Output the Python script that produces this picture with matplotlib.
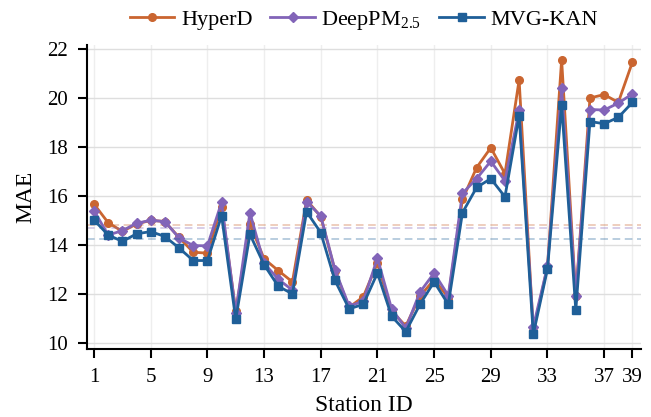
import numpy as np
import matplotlib
matplotlib.use("Agg")
import matplotlib.pyplot as plt

stations = np.arange(1, 40)

hyperd = [15.66, 14.90, 14.55, 14.85, 15.00, 14.95, 14.30, 13.70, 13.66, 15.55,
          11.30, 14.85, 13.43, 12.95, 12.49, 15.83, 15.15, 12.95, 11.45, 11.88,
          13.26, 11.30, 10.69, 11.90, 12.58, 11.85, 15.85, 17.15, 17.96, 16.90,
          20.73, 10.50, 13.10, 21.55, 11.90, 19.99, 20.13, 19.81, 21.46]
deeppm = [15.39, 14.40, 14.58, 14.88, 15.00, 14.95, 14.28, 13.97, 13.96, 15.73,
          11.23, 15.31, 13.25, 12.60, 12.15, 15.76, 15.18, 12.99, 11.50, 11.70,
          13.46, 11.39, 10.60, 12.07, 12.85, 11.93, 16.10, 16.70, 17.41, 16.61,
          19.48, 10.66, 13.12, 20.38, 11.90, 19.52, 19.50, 19.78, 20.16]
mvgkan = [15.01, 14.40, 14.14, 14.45, 14.54, 14.34, 13.87, 13.36, 13.36, 15.19,
          10.96, 14.43, 13.19, 12.31, 12.00, 15.35, 14.50, 12.55, 11.39, 11.57,
          12.85, 11.09, 10.46, 11.57, 12.49, 11.57, 15.31, 16.34, 16.70, 15.96,
          19.27, 10.35, 13.01, 19.72, 11.33, 19.03, 18.94, 19.20, 19.81]

names = ["HyperD", "DeepPM$_{2.5}$", "MVG-KAN"]
colors = ["#CA6530", "#8264B8", "#1F5F98"]
markers = ["o", "D", "s"]

plt.rcParams["font.family"] = ["Liberation Serif", "DejaVu Serif"]
plt.rcParams["mathtext.fontset"] = "custom"
plt.rcParams["mathtext.rm"] = "Liberation Serif"

fig = plt.figure(figsize=(6.51, 4.17), dpi=100)
ax = fig.add_axes([0.1336, 0.1630, 0.851, 0.7290])

for vals, name, c, m in zip([hyperd, deeppm, mvgkan], names, colors, markers):
    ms = 5 if m == "D" else 5.5
    ax.plot(stations, vals, color=c, marker=m, markersize=ms, linewidth=2,
            label=name)
    # mean reference line
    ax.axhline(np.mean(vals), color=c, linestyle="--", linewidth=1.1,
               alpha=0.4, dashes=(5, 3))

ax.set_xlim(0.5, 39.6)
ax.set_ylim(9.75, 22.15)
ax.set_xticks([1, 5, 9, 13, 17, 21, 25, 29, 33, 37, 39])
ax.set_yticks(np.arange(10, 23, 2))
ax.grid(True, axis="y", color="#dedede", linewidth=1)
ax.grid(True, axis="x", color="#eeeeee", linewidth=1)
ax.set_axisbelow(True)

for s in ["top", "right"]:
    ax.spines[s].set_visible(False)
for s in ["left", "bottom"]:
    ax.spines[s].set_linewidth(1.5)
ax.tick_params(axis="both", labelsize=15, width=1.5, length=6.5, pad=7)

ax.set_xlabel("Station ID", fontsize=17, labelpad=6)
ax.set_ylabel("MAE", fontsize=17, labelpad=8)

ax.legend(loc="center", bbox_to_anchor=(0.5, 1.08), ncol=3, frameon=False,
          fontsize=16, handlelength=2, columnspacing=0.8, handletextpad=0.3,
          borderaxespad=0, borderpad=0)

fig.savefig("out.png", dpi=100)
